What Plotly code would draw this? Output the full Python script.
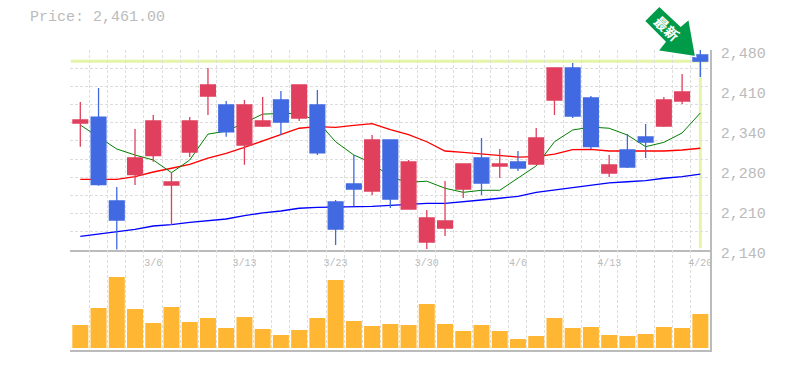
import plotly.graph_objects as go

# --- data ---
opens  = [2355.9,2366,2223.3,2268,2300.3,2250.5,2306.6,2401.8,2386.5,2318.5,2350.8,2395,2364.4,2386.5,2221.6,2252.2,2240.3,2327,2209.7,2153.6,2177.4,2243.7,2296.4,2282.8,2289.6,2286.2,2395,2449.4,2398.4,2270.9,2310,2332.1,2350.8,2393.3,2471.5]
closes = [2361,2251,2191,2296.4,2359.3,2255.6,2359.3,2420.5,2341,2386.5,2359.3,2357.6,2420.5,2305,2175.7,2243.7,2327,2226.7,2289.6,2194.4,2189.3,2286.2,2253.9,2286.2,2279.4,2330.4,2449.4,2367.8,2315.6,2284.5,2281.1,2323.6,2395,2408.6,2461]
highs  = [2391.6,2415.4,2247,2345.7,2369.5,2272,2366,2449.4,2393.3,2395,2400,2410.3,2420.5,2412,2225,2301.5,2335.5,2327,2293,2208,2257.3,2286.2,2330.4,2311.7,2308.3,2347.4,2449.4,2457.9,2401.8,2301.5,2337.2,2354.2,2400.1,2439.2,2480]
lows   = [2315.6,2249.3,2141,2250.5,2290,2183,2298,2369.5,2332.6,2285,2349,2335.5,2359.3,2301.5,2148.5,2214.3,2233.5,2211.4,2209.7,2141.7,2163.8,2228.4,2233.5,2262.4,2274.3,2284.5,2369.5,2364.4,2311.7,2264,2279.4,2296.4,2349,2388.2,2434.1]
ma_short = [2352.5,2332,2311.7,2301.5,2293,2271.4,2293,2337,2342,2356,2371,2372,2372,2359,2324,2301.5,2288,2264,2255,2257,2245,2238,2241.5,2241.5,2263,2283,2324,2344,2349,2347,2335.5,2315.6,2323,2339,2373]
ma_mid   = [2260,2260,2260,2264.6,2272.6,2279,2285.7,2296,2304.4,2314.6,2325.3,2335.5,2347,2349.6,2348.6,2352,2354.7,2344.5,2336,2324,2308.3,2306,2303,2300,2298,2298.6,2303,2310.5,2311,2308.3,2308.3,2308,2308.3,2310,2313]
ma_long  = [2163.3,2167,2170.6,2175,2180.8,2183,2187,2190,2192.7,2198.3,2203,2206.3,2211,2212.6,2213,2214.3,2214.3,2216,2218,2219.4,2219.4,2222.8,2225,2228,2231.3,2238,2242,2246.6,2250.5,2254,2256,2258,2262,2264.6,2269]
volume = [2300,4000,7100,3900,2500,4100,2600,3000,2000,3100,1900,1300,1800,3000,6800,2700,2200,2400,2300,4400,2400,1700,2300,1700,900,1200,3000,2000,2100,1300,1200,1400,2100,2000,3400]
date_idx = [4,9,14,19,24,29,34]
date_labels = ["3/6","3/13","3/23","3/30","4/6","4/13","4/20"]
price_ticks = [2480,2412,2344,2276,2208,2140]
price_labels = ["2,480","2,410","2,340","2,280","2,210","2,140"]
last_price = 2461
title_text = "Price: 2,461.00"
badge_text = "最新"

RED, BLUE = "#E0405E", "#4169E1"
GRID, AXIS, TXT = "#DDDDDD", "#BBBBBB", "#BBBBBB"
HILITE = "#E4F5A8"
MONO = "Liberation Mono"
W, H = 785, 370
L, R, T, B = 70, 710, 50, 350
xs = list(range(len(closes)))
xrange_ = [-0.565, 34.53]
yrange_ = [2140, 2480]
vrange_ = [-200, 9800]

def px(x): return (x - L) / (R - L)
def py(y): return (B - y) / (B - T)

fig = go.Figure()
fig.add_trace(go.Scatter(x=xs, y=ma_long, mode="lines", line=dict(color="#0000FF", width=1.3)))
fig.add_trace(go.Scatter(x=xs, y=ma_mid, mode="lines", line=dict(color="#FF0000", width=1.3)))
fig.add_trace(go.Scatter(x=xs, y=ma_short, mode="lines", line=dict(color="#008000", width=1)))
fig.add_trace(go.Candlestick(x=xs, open=opens, high=highs, low=lows, close=closes, whiskerwidth=0,
    xaxis="x3", yaxis="y3",
    increasing=dict(line=dict(color=RED, width=1.3), fillcolor=RED),
    decreasing=dict(line=dict(color=BLUE, width=1.3), fillcolor=BLUE)))
fig.add_trace(go.Bar(x=xs, y=volume, marker=dict(color="#FFB733", line=dict(width=0)), xaxis="x2", yaxis="y2"))
# carries the date labels, which sit on their own axis over the volume panel
fig.add_trace(go.Scatter(x=date_idx, y=[0] * len(date_idx), mode="none", xaxis="x4", yaxis="y2", hoverinfo="skip"))

grid_x = dict(showgrid=True, gridcolor=GRID, griddash="3px,2px", gridwidth=1, tick0=-0.52, dtick=1, ticks="")

hl = dict(type="line", layer="below", line=dict(color=HILITE, width=3), xref="x", yref="y")
arrow = "M %g %g L %g %g L %g %g L %g %g L %g %g L %g %g L %g %g Z" % (
    px(659.3), py(6), px(644.3), py(21), px(665), py(41.7), px(657.7), py(51),
    px(695.7), py(56.7), px(689), py(19), px(680.7), py(26))

fig.update_layout(
    width=W, height=H, autosize=False, showlegend=False,
    paper_bgcolor="white", plot_bgcolor="white",
    margin=dict(l=L, r=W - R, t=T, b=H - B, pad=0, autoexpand=False),
    bargap=0.1226, boxgap=0.19, boxgroupgap=0,
    xaxis=dict(domain=[0, 1], range=xrange_, anchor="y",
               showticklabels=False, showline=True, linecolor=AXIS, linewidth=1.5,
               zeroline=False, **grid_x),
    xaxis2=dict(domain=[0, 1], range=xrange_, anchor="y2",
                showticklabels=False, showline=True, linecolor=AXIS, linewidth=1.5,
                zeroline=False, **grid_x),
    xaxis3=dict(range=xrange_, overlaying="x", anchor="y3", visible=False,
                rangeslider=dict(visible=False)),
    xaxis4=dict(range=xrange_, overlaying="x2", anchor="y2", side="top",
                tickmode="array", tickvals=date_idx, ticktext=date_labels,
                ticklabelposition="inside", ticklabeloverflow="allow", ticklabelstandoff=6,
                showgrid=False, zeroline=False, showline=False,
                tickfont=dict(family=MONO, size=10, color="#BBBBBB"), ticks=""),
    yaxis=dict(domain=[1/3, 1], range=yrange_, side="right", anchor="x",
               tickmode="array", tickvals=price_ticks, ticktext=price_labels,
               tickfont=dict(family=MONO, size=15, color=TXT), ticklabelshift=3,
               ticklabelstandoff=6, showgrid=False, zeroline=False, ticks="",
               showline=True, linecolor=AXIS, linewidth=1.5,
               minor=dict(showgrid=True, gridcolor=GRID, griddash="3px,2px", gridwidth=1,
                          tick0=2140, dtick=340/11, ticks="")),
    yaxis2=dict(domain=[0, 1/3], range=vrange_, side="right", anchor="x2",
                showticklabels=False, showgrid=False, zeroline=False, ticks="",
                showline=True, linecolor=AXIS, linewidth=1.5),
    yaxis3=dict(range=yrange_, overlaying="y", anchor="x3", side="right", visible=False),
    shapes=[
        dict(hl, x0=-0.52, x1=34.4, y0=last_price, y1=last_price),
        dict(hl, x0=34, x1=34, y0=last_price, y1=2143),
        dict(type="path", xref="paper", yref="paper", path=arrow, fillcolor="#009B48",
             line=dict(color="white", width=1.5), layer="above"),
    ],
    annotations=[
        dict(text=title_text, xref="paper", yref="paper", x=px(27.5), y=py(18), xanchor="left",
             yanchor="middle", showarrow=False, font=dict(family=MONO, size=15, color=TXT)),
        dict(text="<b>" + badge_text + "</b>", xref="paper", yref="paper", x=px(667), y=py(28), xanchor="center",
             yanchor="middle", showarrow=False, textangle=43,
             font=dict(family="Noto Sans CJK JP", size=14, color="white")),
    ],
)
fig.write_html("out.html", post_script="document.body.style.margin='0';", config=dict(displayModeBar=False))
